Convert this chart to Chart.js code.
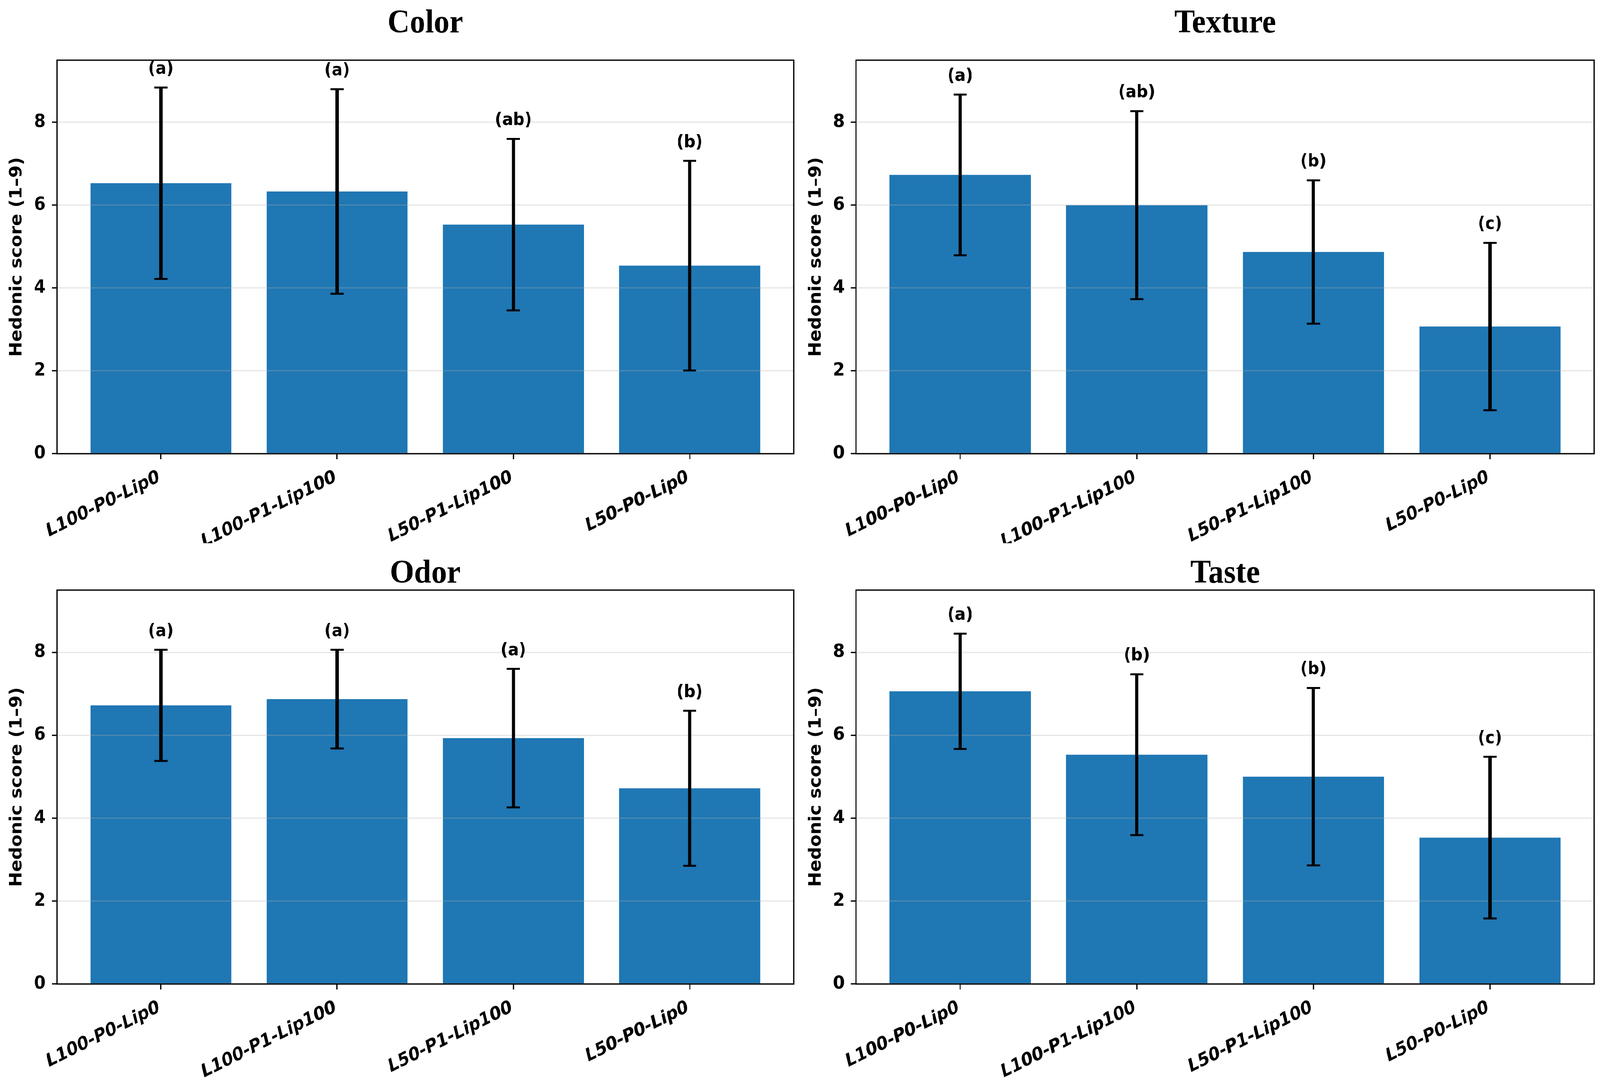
<!DOCTYPE html>
<html>
<head>
<meta charset="utf-8">
<script src="https://cdn.jsdelivr.net/npm/chart.js@4.4.0/dist/chart.umd.min.js"></script>
<style>
html, body { margin: 0; padding: 0; background: #ffffff; overflow: hidden; }
#wrap { position: absolute; left: 0; top: 0; width: 4385px; height: 2779px; transform-origin: 0 0; background: #ffffff; }
canvas { position: absolute; }
</style>
</head>
<body>
<div id="wrap">
<canvas id="c0"></canvas>
<canvas id="c1"></canvas>
<canvas id="c2"></canvas>
<canvas id="c3"></canvas>
</div>
<script>
// ---------------- data ----------------
const categories = ['L100-P0-Lip0', 'L100-P1-Lip100', 'L50-P1-Lip100', 'L50-P0-Lip0'];
const yTicks = [0, 2, 4, 6, 8];
const yAxisLabel = 'Hedonic score (1\u20139)';

const colorMeans   = [6.53, 6.33, 5.53, 4.54];
const colorSD      = [2.31, 2.47, 2.07, 2.53];
const colorLetters = ['(a)', '(a)', '(ab)', '(b)'];

const textureMeans   = [6.73, 6.00, 4.87, 3.07];
const textureSD      = [1.94, 2.27, 1.73, 2.02];
const textureLetters = ['(a)', '(ab)', '(b)', '(c)'];

const odorMeans   = [6.72, 6.87, 5.93, 4.72];
const odorSD      = [1.34, 1.19, 1.67, 1.87];
const odorLetters = ['(a)', '(a)', '(a)', '(b)'];

const tasteMeans   = [7.06, 5.53, 5.00, 3.53];
const tasteSD      = [1.39, 1.94, 2.14, 1.95];
const tasteLetters = ['(a)', '(b)', '(b)', '(c)'];

const panels = [
  { title: 'Color',   means: colorMeans,   sd: colorSD,   letters: colorLetters },
  { title: 'Texture', means: textureMeans, sd: textureSD, letters: textureLetters },
  { title: 'Odor',    means: odorMeans,    sd: odorSD,    letters: odorLetters },
  { title: 'Taste',   means: tasteMeans,   sd: tasteSD,   letters: tasteLetters }
];

// ---------------- layout (design pixels, 4385 x 2779) ----------------
const DESIGN_W = 4385, DESIGN_H = 2779;
const layouts = [
  { left: 0,    top: 0,    width: 2190, height: 1390, plotLeft: 156, plotRight: 2175, plotTop: 154, plotBottom: 1161, titlePadTop: 19 },
  { left: 2190, top: 0,    width: 2195, height: 1390, plotLeft: 156, plotRight: 2179, plotTop: 154, plotBottom: 1161, titlePadTop: 19 },
  { left: 0,    top: 1390, width: 2190, height: 1389, plotLeft: 156, plotRight: 2175, plotTop: 120, plotBottom: 1128, titlePadTop: 37 },
  { left: 2190, top: 1390, width: 2195, height: 1389, plotLeft: 156, plotRight: 2179, plotTop: 120, plotBottom: 1128, titlePadTop: 37 }
];

// stretch the design to fill the actual viewport
const vw = window.innerWidth || DESIGN_W;
const vh = window.innerHeight || DESIGN_H;
const SX = vw / DESIGN_W, SY = vh / DESIGN_H;
document.getElementById('wrap').style.transform = 'scale(' + SX + ',' + SY + ')';
const DPR = Math.max(1, (window.devicePixelRatio || 1) * Math.max(SX, SY));

const BAR_COLOR = '#1f77b4';
const TITLE_SIZE = 85;
const SMALL = 46;
const LINE_W = 3.3;
const X_ROT = 25;

function makeChart(idx) {
  const p = panels[idx];
  const L = layouts[idx];
  const cv = document.getElementById('c' + idx);
  cv.width = L.width; cv.height = L.height;
  cv.style.left = L.left + 'px'; cv.style.top = L.top + 'px';
  cv.style.width = L.width + 'px'; cv.style.height = L.height + 'px';

  const overlay = {
    id: 'overlay' + idx,
    afterDraw(chart) {
      const ctx = chart.ctx;
      const xs = chart.scales.x, ys = chart.scales.y;
      const ca = chart.chartArea;
      ctx.save();
      ctx.strokeStyle = '#000';
      for (let i = 0; i < p.means.length; i++) {
        const x = xs.getPixelForValue(i);
        const yt = ys.getPixelForValue(p.means[i] + p.sd[i]);
        const yb = ys.getPixelForValue(p.means[i] - p.sd[i]);
        ctx.lineWidth = 9;
        ctx.lineCap = 'butt';
        ctx.beginPath(); ctx.moveTo(x, yt); ctx.lineTo(x, yb); ctx.stroke();
        ctx.lineWidth = 5;
        ctx.beginPath();
        ctx.moveTo(x - 18, yt); ctx.lineTo(x + 18, yt);
        ctx.moveTo(x - 18, yb); ctx.lineTo(x + 18, yb);
        ctx.stroke();
        const ly = ys.getPixelForValue(p.means[i] + p.sd[i] + 0.33);
        ctx.fillStyle = '#000';
        ctx.font = 'bold 44px "DejaVu Sans"';
        ctx.textAlign = 'center';
        ctx.textBaseline = 'alphabetic';
        ctx.fillText(p.letters[i], x, ly);
      }
      ctx.lineWidth = LINE_W;
      ctx.strokeStyle = '#000';
      ctx.strokeRect(ca.left, ca.top, ca.right - ca.left, ca.bottom - ca.top);
      ctx.restore();
    }
  };

  return new Chart(cv, {
    type: 'bar',
    data: {
      datasets: [{
        data: p.means.map((v, i) => ({ x: i, y: v })),
        backgroundColor: BAR_COLOR,
        borderWidth: 0,
        barPercentage: 0.8,
        categoryPercentage: 1.0
      }]
    },
    options: {
      responsive: false,
      animation: false,
      devicePixelRatio: DPR,
      layout: { padding: { left: 0, top: 0, bottom: 0, right: L.width - L.plotRight } },
      plugins: {
        legend: { display: false },
        tooltip: { enabled: false },
        title: {
          display: true,
          text: p.title,
          fullSize: false,
          color: '#000',
          font: { family: '"Liberation Serif", "Times New Roman", serif', size: TITLE_SIZE, weight: 'bold', lineHeight: 1 },
          padding: { top: L.titlePadTop, bottom: L.plotTop - L.titlePadTop - TITLE_SIZE }
        }
      },
      scales: {
        x: {
          type: 'linear',
          min: -0.59,
          max: 3.59,
          offset: false,
          afterBuildTicks: (s) => { s.ticks = categories.map((c, i) => ({ value: i })); },
          afterFit: (s) => { s.height = L.height - L.plotBottom; },
          grid: { offset: false, drawOnChartArea: false, drawTicks: true, tickLength: 14, tickWidth: LINE_W, tickColor: '#000' },
          border: { display: false },
          ticks: {
            autoSkip: false,
            maxRotation: X_ROT,
            minRotation: X_ROT,
            padding: 19,
            labelOffset: -4,
            color: '#000',
            font: { family: '"DejaVu Sans"', size: SMALL, weight: 'bold', style: 'italic' },
            callback: (v) => categories[Math.round(v)]
          }
        },
        y: {
          min: 0,
          max: 9.5,
          afterBuildTicks: (s) => { s.ticks = yTicks.map(v => ({ value: v })); },
          afterFit: (s) => { s.width = L.plotLeft; },
          grid: { z: 1, color: 'rgba(176,176,176,0.3)', lineWidth: LINE_W, drawTicks: true, tickLength: 14, tickWidth: LINE_W, tickColor: '#000' },
          border: { display: false },
          ticks: {
            padding: 17,
            color: '#000',
            font: { family: '"DejaVu Sans"', size: SMALL, weight: 'bold' }
          },
          title: {
            display: true,
            text: yAxisLabel,
            color: '#000',
            padding: { top: 19, bottom: 0 },
            font: { family: '"DejaVu Sans"', size: SMALL, weight: 'bold' }
          }
        }
      }
    },
    plugins: [overlay]
  });
}

for (let i = 0; i < 4; i++) makeChart(i);
</script>
</body>
</html>
